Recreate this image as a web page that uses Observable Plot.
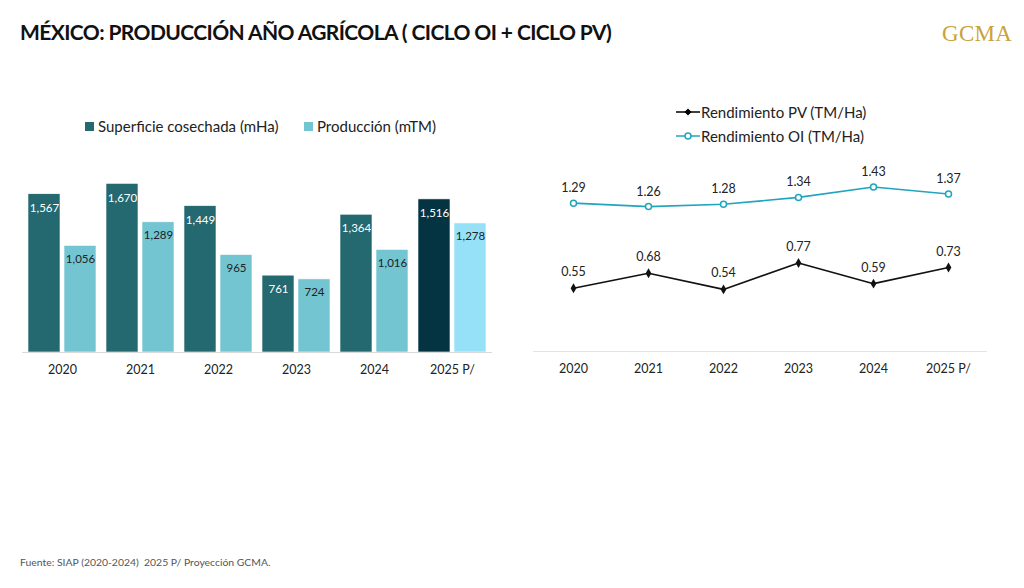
<!DOCTYPE html>
<html>
<head>
<meta charset="utf-8">
<script src="https://cdn.jsdelivr.net/npm/d3@7"></script>
<script src="https://cdn.jsdelivr.net/npm/@observablehq/plot@0.6"></script>
<style>
  html, body { margin: 0; padding: 0; background: #fff; }
  body { width: 1024px; height: 588px; position: relative; overflow: hidden; font-family: Lato, "Open Sans", sans-serif; color: #222; }
  .abs { position: absolute; }
  #title { left: 20px; top: 19px; font-size: 21px; font-weight: 700; color: #111; letter-spacing: -0.6px; white-space: nowrap; }
  #logo { left: 942px; top: 21px; font-family: "Liberation Serif", "DejaVu Serif", serif; font-size: 23px; color: #C9A23A; letter-spacing: 0.3px; }
  #footer { left: 20px; top: 556px; font-size: 10.4px; color: #555; white-space: nowrap; }
  .leg { font-size: 15px; color: #222; white-space: nowrap; display: flex; align-items: center; }
  .sq { display: inline-block; width: 9px; height: 9px; margin-right: 4px; }
</style>
</head>
<body>
<div id="title" class="abs">MÉXICO: PRODUCCIÓN AÑO AGRÍCOLA ( CICLO OI + CICLO PV)</div>
<div id="logo" class="abs">GCMA</div>

<div class="abs leg" style="left:85px; top:117px;"><span class="sq" style="background:#246870"></span>Superficie cosechada (mHa)</div>
<div class="abs leg" style="left:304px; top:117px;"><span class="sq" style="background:#73C5D1"></span>Producción (mTM)</div>

<div class="abs leg" style="left:676px; top:103px;"><svg width="24" height="12" style="margin-right:1px"><line x1="0" y1="6" x2="24" y2="6" stroke="#000" stroke-width="1.5"/><path d="M12 2.5 L15.5 6 L12 9.5 L8.5 6 Z" fill="#000"/></svg>Rendimiento PV (TM/Ha)</div>
<div class="abs leg" style="left:676px; top:127px;"><svg width="24" height="12" style="margin-right:1px"><line x1="0" y1="6" x2="24" y2="6" stroke="#21A5BF" stroke-width="1.5"/><circle cx="12" cy="6" r="3" fill="#fff" stroke="#21A5BF" stroke-width="1.5"/></svg>Rendimiento OI (TM/Ha)</div>

<div id="left" class="abs" style="left:0px; top:150px;"></div>
<div id="right" class="abs" style="left:517px; top:134px;"></div>

<div id="footer" class="abs">Fuente: SIAP (2020-2024)&nbsp; 2025 P/ Proyección GCMA.</div>

<script>
const years = ["2020", "2021", "2022", "2023", "2024", "2025 P/"];
const superficie = [1567, 1670, 1449, 761, 1364, 1516];
const produccion = [1056, 1289, 965, 724, 1016, 1278];
const rendPV = [0.55, 0.68, 0.54, 0.77, 0.59, 0.73];
const rendOI = [1.29, 1.26, 1.28, 1.34, 1.43, 1.37];

const rows = years.map((y, i) => ({year: y, sup: superficie[i], prod: produccion[i], pv: rendPV[i], oi: rendOI[i]}));
const fmt = d3.format(",");
const proj = d => d.year === "2025 P/";

const left = Plot.plot({
  width: 510, height: 232,
  marginTop: 0, marginBottom: 30, marginLeft: 22, marginRight: 18,
  style: {fontFamily: "Lato, 'Open Sans', sans-serif", fontSize: "12.5px", color: "#222", background: "transparent"},
  x: {type: "band", domain: years, paddingInner: 0.132, paddingOuter: 0.064, label: null, tickSize: 0, tickPadding: 13},
  y: {domain: [0, 2000], axis: null},
  marks: [
    Plot.barY(rows, {x: "year", y: "sup", insetRight: 36, fill: d => proj(d) ? "#043442" : "#246870", stroke: "#fff", strokeWidth: 0.6}),
    Plot.barY(rows, {x: "year", y: "prod", insetLeft: 36, fill: d => proj(d) ? "#96E1F7" : "#73C5D1", stroke: "#fff", strokeWidth: 0.6}),
    Plot.ruleY([0], {stroke: "#d9d9d9", strokeWidth: 1}),
    Plot.text(rows, {x: "year", y: "sup", text: d => fmt(d.sup), dx: -18, dy: 14, fill: "#fff", fontSize: 11.5}),
    Plot.text(rows, {x: "year", y: "prod", text: d => fmt(d.prod), dx: 18, dy: 13, fill: "#222", fontSize: 11.5})
  ]
});
document.getElementById("left").appendChild(left);

const right = Plot.plot({
  width: 500, height: 252,
  marginTop: 10, marginBottom: 35, marginLeft: 16, marginRight: 30,
  style: {fontFamily: "Lato, 'Open Sans', sans-serif", fontSize: "12.5px", color: "#222", background: "transparent"},
  x: {type: "point", domain: years, padding: 0.5, label: null, tickSize: 0, tickPadding: 13},
  y: {domain: [0, 1.8], axis: null},
  marks: [
    Plot.ruleY([0], {stroke: "#e3e3e3", strokeWidth: 1}),
    Plot.line(rows, {x: "year", y: "oi", stroke: "#21A5BF", strokeWidth: 1.6}),
    Plot.dot(rows, {x: "year", y: "oi", r: 3, fill: "#fff", stroke: "#21A5BF", strokeWidth: 1.5}),
    Plot.line(rows, {x: "year", y: "pv", stroke: "#111", strokeWidth: 1.6}),
    Plot.dot(rows, {x: "year", y: "pv", symbol: "diamond", r: 3, fill: "#111"}),
    Plot.text(rows, {x: "year", y: "oi", text: d => d.oi.toFixed(2), dy: -15, fill: "#222", fontSize: 12.5}),
    Plot.text(rows, {x: "year", y: "pv", text: d => d.pv.toFixed(2), dy: -16, fill: "#222", fontSize: 12.5})
  ]
});
document.getElementById("right").appendChild(right);
</script>
</body>
</html>
